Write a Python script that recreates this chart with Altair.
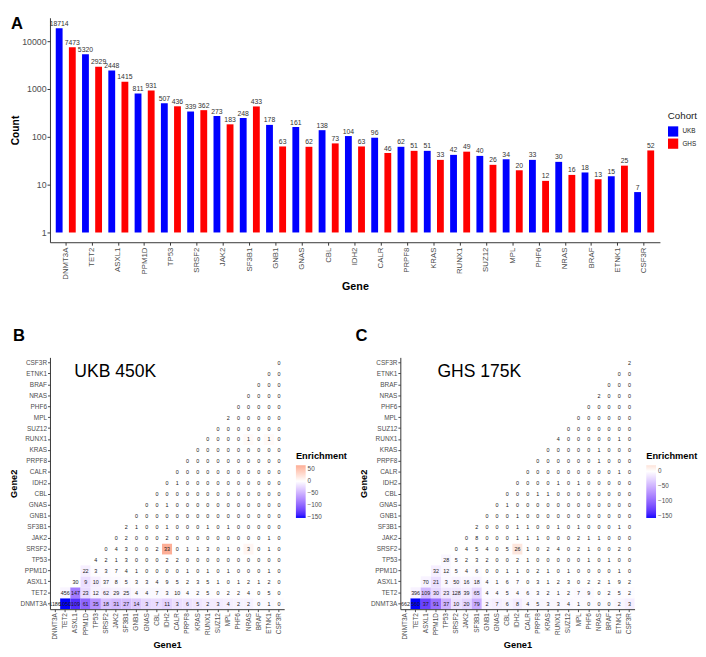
import altair as alt
import pandas as pd

FONT = "Liberation Sans"

genes = ["DNMT3A", "TET2", "ASXL1", "PPM1D", "TP53", "SRSF2", "JAK2", "SF3B1", "GNB1",
         "GNAS", "CBL", "IDH2", "CALR", "PRPF8", "KRAS", "RUNX1", "SUZ12", "MPL", "PHF6",
         "NRAS", "BRAF", "ETNK1", "CSF3R"]
cohorts = ["UKB", "GHS"]
ukb_counts = [18714, 5320, 2448, 811, 507, 339, 273, 248, 178, 161, 138, 104, 96, 62, 51,
              42, 40, 34, 33, 30, 18, 15, 7]
ghs_counts = [7473, 2929, 1415, 931, 436, 362, 183, 433, 63, 62, 73, 63, 46, 51, 33, 49,
              26, 20, 12, 16, 13, 25, 52]

# co-occurrence counts, one list per Gene2 row (Gene1 runs from the row gene to CSF3R)
ukb_pairs = [
    [1186, 1050, 109, 61, 35, 18, 31, 27, 14, 3, 7, 11, 3, 6, 5, 2, 3, 4, 2, 2, 0, 1, 0],
    [456, 147, 23, 12, 62, 29, 25, 4, 4, 7, 3, 10, 4, 2, 5, 0, 2, 2, 4, 0, 5, 0],
    [30, 9, 10, 37, 8, 5, 3, 3, 4, 9, 5, 2, 3, 5, 1, 0, 1, 2, 1, 2, 0],
    [22, 3, 3, 7, 4, 1, 0, 0, 0, 0, 1, 0, 1, 0, 1, 0, 0, 0, 1, 0],
    [4, 2, 1, 3, 0, 0, 0, 2, 2, 0, 0, 0, 0, 0, 0, 0, 0, 0, 0],
    [0, 4, 3, 0, 0, 2, 33, 0, 1, 1, 3, 0, 1, 0, 3, 0, 1, 0],
    [0, 2, 0, 0, 0, 2, 0, 0, 0, 0, 0, 0, 0, 0, 0, 1, 0],
    [2, 1, 0, 0, 1, 0, 0, 0, 1, 0, 1, 0, 0, 0, 0, 0],
    [0, 0, 0, 0, 0, 0, 0, 0, 0, 0, 0, 0, 0, 0, 0],
    [0, 0, 1, 0, 0, 0, 0, 0, 0, 0, 0, 0, 0, 0],
    [0, 0, 0, 0, 0, 0, 0, 0, 0, 0, 0, 0, 0],
    [0, 1, 0, 0, 0, 0, 0, 0, 0, 0, 0, 0],
    [0, 0, 0, 0, 0, 0, 0, 0, 0, 0, 0],
    [0, 0, 0, 0, 0, 0, 0, 0, 0, 0],
    [0, 0, 0, 0, 0, 0, 0, 0, 0],
    [0, 0, 0, 0, 1, 0, 1, 0],
    [0, 0, 0, 0, 0, 0, 0],
    [2, 0, 0, 0, 0, 0],
    [0, 0, 0, 0, 0],
    [0, 0, 0, 0],
    [0, 0, 0],
    [0, 0],
    [0],
]
ghs_pairs = [
    [662, 560, 37, 91, 37, 10, 20, 79, 2, 7, 6, 8, 4, 5, 3, 3, 4, 1, 0, 0, 0, 2, 3],
    [396, 109, 30, 23, 128, 39, 65, 4, 4, 5, 4, 6, 3, 2, 1, 2, 7, 9, 0, 2, 5, 2],
    [70, 21, 3, 50, 16, 18, 4, 1, 6, 7, 0, 3, 1, 2, 3, 0, 2, 2, 1, 9, 2],
    [32, 12, 5, 4, 6, 0, 0, 1, 1, 0, 2, 1, 0, 1, 0, 0, 0, 0, 1, 0],
    [28, 5, 2, 3, 2, 0, 0, 2, 1, 0, 0, 0, 0, 0, 1, 0, 1, 0, 0],
    [0, 4, 5, 4, 0, 5, 26, 1, 0, 2, 4, 0, 2, 1, 0, 0, 2, 0],
    [0, 8, 0, 0, 0, 1, 1, 1, 0, 0, 0, 2, 1, 1, 0, 0, 0],
    [2, 0, 0, 0, 1, 1, 0, 0, 1, 0, 1, 0, 0, 0, 1, 0],
    [0, 0, 0, 1, 0, 0, 0, 0, 0, 0, 0, 0, 0, 0, 0],
    [0, 1, 0, 0, 0, 0, 0, 0, 0, 0, 0, 0, 0, 0],
    [0, 0, 0, 1, 1, 0, 0, 0, 0, 0, 0, 0, 0],
    [0, 0, 0, 0, 1, 0, 1, 0, 0, 0, 0, 0],
    [0, 0, 0, 0, 0, 0, 0, 0, 0, 1, 0],
    [0, 0, 0, 0, 0, 0, 1, 0, 0, 0],
    [0, 0, 0, 0, 0, 1, 0, 0, 0],
    [4, 0, 0, 0, 0, 0, 1, 0],
    [0, 0, 0, 0, 0, 0, 0],
    [0, 0, 0, 0, 0, 0],
    [0, 0, 0, 0, 0],
    [2, 0, 0, 0],
    [0, 0, 0],
    [0, 0],
    [2],
]

# enrichment (fill colour) for the shaded rows; every other cell reads as white (0)
ukb_enrich_rows = [
    [0, -152, -135, -100, -70, -40, -45, -42, -35, -25, -22, -28, -20, -18, -15, -12, -12,
     -10, -8, -8, -4, -4, -2],
    [-6, -85, -22, -8, -10, -8, -8, -4, -4, -4, -3, -4, -2, -2, -2, -1, -1, -1, -1, 0, -1, 0],
    [0, -20, -10, -4, -3, -2, -1, -1, -1, -1, -1, 0, 0, 0, 0, 0, 0, 0, 0, 0, 0],
    [-10, -2, -2, -1, 0, 0, 0, 0, 0, 0, 0, 0, 0, 0, 0, 0, 0, 0, 0, 0],
]
ukb_enrich_extra = {("SRSF2", "IDH2"): 66, ("SRSF2", "NRAS"): 8,
                    ("RUNX1", "NRAS"): 4, ("RUNX1", "ETNK1"): 4}
ghs_enrich_rows = [
    [0, -155, -125, -95, -50, -20, -28, -55, -8, -10, -8, -12, -6, -6, -5, -5, -5, -3, -3,
     -3, -3, -6, -10],
    [-8, -45, -25, -15, -15, -12, -25, -3, -3, -3, -3, -3, -2, -2, -2, -2, -3, -3, 0, -2,
     -2, -2],
    [-8, -20, -5, -8, -6, -8, -2, -1, -1, -1, 0, 0, 0, 0, 0, 0, 0, 0, 0, 0, 0],
    [-10, -5, -2, -1, -2, 0, 0, 0, 0, 0, 0, 0, 0, 0, 0, 0, 0, 0, 0, 0],
    [-5, -1, 0, 0, 0, 0, 0, 0, 0, 0, 0, 0, 0, 0, 0, 0, 0, 0, 0],
]
ghs_enrich_extra = {("SRSF2", "IDH2"): 18}

AX = "#333333"
LAB = "#4d4d4d"

# ---------------- Panel A ----------------
rowsA = []
for g, u, h in zip(genes, ukb_counts, ghs_counts):
    rowsA.append({"Gene": g, "Cohort": "UKB", "Count": u, "base": 1})
    rowsA.append({"Gene": g, "Cohort": "GHS", "Count": h, "base": 1})
dfA = pd.DataFrame(rowsA)

xA = alt.X("Gene:N", sort=genes,
           scale=alt.Scale(paddingInner=0, paddingOuter=0.1),
           axis=alt.Axis(title="Gene", labelAngle=-90, labelFontSize=8, labelColor=LAB,
                         tickSize=3, tickColor=AX, domainColor=AX, labelPadding=2,
                         titleFontSize=11, titleFontWeight="bold", titlePadding=2,
                         titleColor="black"))
xoA = alt.XOffset("Cohort:N", sort=cohorts,
                  scale=alt.Scale(domain=cohorts, paddingInner=0.48, paddingOuter=0.24))
yA = alt.Y("Count:Q",
           scale=alt.Scale(type="log", domain=[0.625, 31000], nice=False),
           axis=alt.Axis(title="Count", values=[1, 10, 100, 1000, 10000], format="d",
                         labelFontSize=9, labelColor=LAB, tickSize=3, tickColor=AX,
                         domainColor=AX, labelPadding=1, titleFontSize=10.5,
                         titleFontWeight="bold", titlePadding=1, grid=False,
                         titleColor="black"))

bars = alt.Chart(dfA).mark_bar().encode(
    x=xA, xOffset=xoA, y=yA, y2="base:Q",
    color=alt.Color("Cohort:N", sort=cohorts,
                    scale=alt.Scale(domain=cohorts, range=["#0000ff", "#ff0000"]),
                    legend=alt.Legend(title="Cohort", orient="none", legendX=633,
                                      legendY=96, symbolType="square", symbolSize=110,
                                      symbolStrokeWidth=0, labelFontSize=6.5,
                                      titleFontSize=10, titleFontWeight="normal",
                                      rowPadding=1.5, labelColor="#222",
                                      titleColor="#222")))
labels = alt.Chart(dfA).mark_text(fontSize=7, dy=-1.5, baseline="bottom",
                                   color="#333").encode(
    x=xA, xOffset=xoA, y=yA, text="Count:Q")
letterA = alt.Chart(pd.DataFrame({"t": ["A"]})).mark_text(
    fontSize=17, fontWeight="bold", align="left", baseline="top", color="black").encode(
    text="t:N", x=alt.value(-40), y=alt.value(-1))

chartA = alt.layer(bars, labels, letterA).properties(width=625, height=230)


# ---------------- Panels B, C ----------------
def heat_frame(pairs, enrich_rows, enrich_extra):
    recs = []
    for i, g2 in enumerate(genes):
        for k, v in enumerate(pairs[i]):
            g1 = genes[i + k]
            e = enrich_rows[i][k] if i < len(enrich_rows) else 0
            if (g2, g1) in enrich_extra:
                e = enrich_extra[(g2, g1)]
            recs.append({"Gene1": g1, "Gene2": g2, "Count": v, "Enrichment": e})
    return pd.DataFrame(recs)


def heat_chart(df, lo, hi, hi_color, panel_title, letter, title_x, letter_x, legend_vals):
    x = alt.X("Gene1:N", sort=genes, scale=alt.Scale(paddingInner=0, paddingOuter=0),
              axis=alt.Axis(title="Gene1", labelAngle=-90, labelFontSize=6.6,
                            labelColor=LAB, tickSize=2.5, tickColor=LAB, domainColor=AX,
                            labelPadding=1, titleFontSize=9.5, titleFontWeight="bold",
                            titlePadding=1, titleColor="black"))
    y = alt.Y("Gene2:N", sort=genes[::-1], scale=alt.Scale(paddingInner=0, paddingOuter=0),
              axis=alt.Axis(title="Gene2", labelFontSize=6.6, labelColor=LAB, tickSize=2.5,
                            tickColor=LAB, domainColor=AX, labelPadding=1,
                            titleFontSize=9.5, titleFontWeight="bold", titlePadding=2,
                            titleColor="black"))
    tiles = alt.Chart(df).mark_rect().encode(
        x=x, y=y,
        color=alt.Color("Enrichment:Q",
                        scale=alt.Scale(domain=[lo, 0, hi],
                                        range=["#0000ff", "#ffffff", hi_color],
                                        interpolate="lab"),
                        legend=alt.Legend(title="Enrichment", orient="none", legendX=252,
                                          legendY=96, values=legend_vals,
                                          gradientLength=54, gradientThickness=10,
                                          gradientStrokeWidth=0, labelFontSize=6.5,
                                          labelColor=LAB, titleFontSize=9.5,
                                          titleFontWeight="bold", titleColor="black")))
    txt = alt.Chart(df).mark_text(fontSize=5.5, color="#1a1a1a").encode(
        x=x, y=y, text="Count:Q")
    ann = alt.Chart(pd.DataFrame({"t": [panel_title]})).mark_text(
        fontSize=18, align="left", baseline="middle", color="black").encode(
        text="t:N", x=alt.value(title_x), y=alt.value(15))
    let = alt.Chart(pd.DataFrame({"t": [letter]})).mark_text(
        fontSize=17, fontWeight="bold", align="left", baseline="top", color="black").encode(
        text="t:N", x=alt.value(letter_x), y=alt.value(-30))
    return alt.layer(tiles, txt, ann, let).properties(width=240, height=258)


dfB = heat_frame(ukb_pairs, ukb_enrich_rows, ukb_enrich_extra)
dfC = heat_frame(ghs_pairs, ghs_enrich_rows, ghs_enrich_extra)
chartB = heat_chart(dfB, -152, 66, "#fdae96", "UKB 450K", "B", 25, -38,
                    [50, 0, -50, -100, -150])
chartC = heat_chart(dfC, -155, 20, "#fde3d9", "GHS 175K", "C", 38, -46,
                    [0, -50, -100, -150])

top = alt.hconcat(chartA, spacing=0)
bottom = alt.hconcat(chartB, chartC, spacing=8).resolve_scale(color="independent") \
    .resolve_legend(color="independent")

chart = alt.vconcat(top, bottom, spacing=36).resolve_scale(color="independent") \
    .resolve_legend(color="independent").properties(
    padding={"left": 0, "top": 0, "right": 0, "bottom": 0},
    autosize=alt.AutoSizeParams(type="pad")
).configure(font=FONT).configure_view(stroke=None).configure_axis(grid=False)

chart.save("out.html", embed_options={"renderer": "svg", "actions": False})
